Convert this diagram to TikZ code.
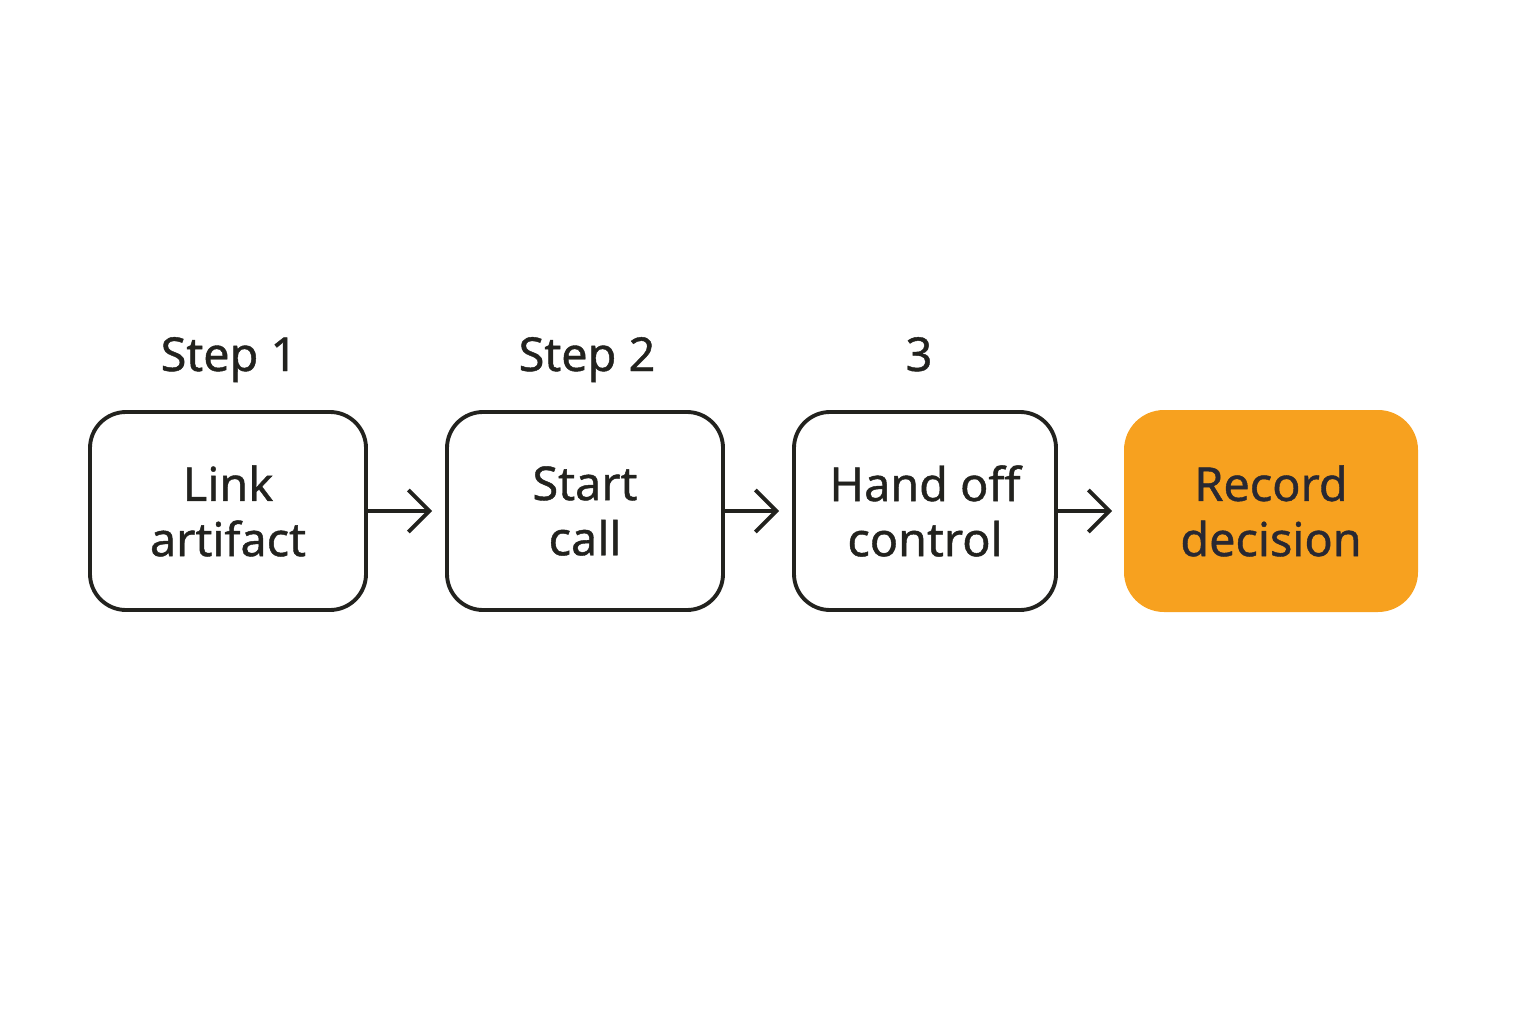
\documentclass[tikz,border=0pt]{standalone}
\usepackage{fontspec}
\setmainfont{Noto Sans}
\newfontfamily\boxfont{Noto Sans}[FakeBold=0.9]
\usepackage{xcolor}
\usetikzlibrary{arrows.meta, positioning}
\definecolor{inkDark}{RGB}{34, 34, 30}
\definecolor{inkNavy}{RGB}{40, 40, 50}
\definecolor{decOrange}{RGB}{247, 161, 31}
\tikzset{
  stepbox/.style={
    rectangle, rounded corners=0.36cm,
    draw=inkDark, line width=1.1pt, fill=white,
    minimum height=1.98cm,
    align=center, font=\boxfont\fontsize{13.3}{15.7}\selectfont,
    text=inkDark, inner sep=0pt
  },
  finalbox/.style={
    rectangle, rounded corners=0.4cm,
    draw=none, fill=decOrange,
    minimum width=2.94cm, minimum height=2.02cm,
    align=center, font=\boxfont\fontsize{13.3}{15.7}\selectfont,
    text=inkNavy, inner sep=0pt
  },
  steplabel/.style={
    anchor=base, font=\boxfont\fontsize{13.3}{16}\selectfont, text=inkDark
  },
  flow/.style={
    -{Straight Barb[length=2.1mm,width=4.2mm,line width=1.1pt]},
    line width=1.1pt, color=inkDark
  }
}
\begin{document}
\begin{tikzpicture}

  \useasboundingbox (0,0) rectangle (15.36,10.24);

  % ── Step boxes ──────────────────────────────────────────────────────────
  \node[stepbox, minimum width=2.76cm] (link)   at (2.28,5.13)  {Link\\artifact};
  \node[stepbox, minimum width=2.76cm] (start)  at (5.85,5.13)  {Start\\call};
  \node[stepbox, minimum width=2.62cm] (handoff) at (9.25,5.13) {Hand off\\control};
  \node[finalbox] (record) at (12.71,5.13) {Record\\decision};

  % ── Step labels ─────────────────────────────────────────────────────────
  \node[steplabel] (lblone)   at (2.29,6.53) {Step 1};
  \node[steplabel] (lbltwo)   at (5.87,6.53) {Step 2};
  \node[steplabel] (lblthree) at (9.19,6.53) {3};

  % ── Arrows ──────────────────────────────────────────────────────────────
  \coordinate (tipone)   at (4.32,5.13);
  \coordinate (tiptwo)   at (7.79,5.13);
  \coordinate (tipthree) at (11.12,5.13);
  \draw[flow] (link.east) -- (tipone);
  \draw[flow] (start.east) -- (tiptwo);
  \draw[flow] (handoff.east) -- (tipthree);

\end{tikzpicture}
\end{document}
